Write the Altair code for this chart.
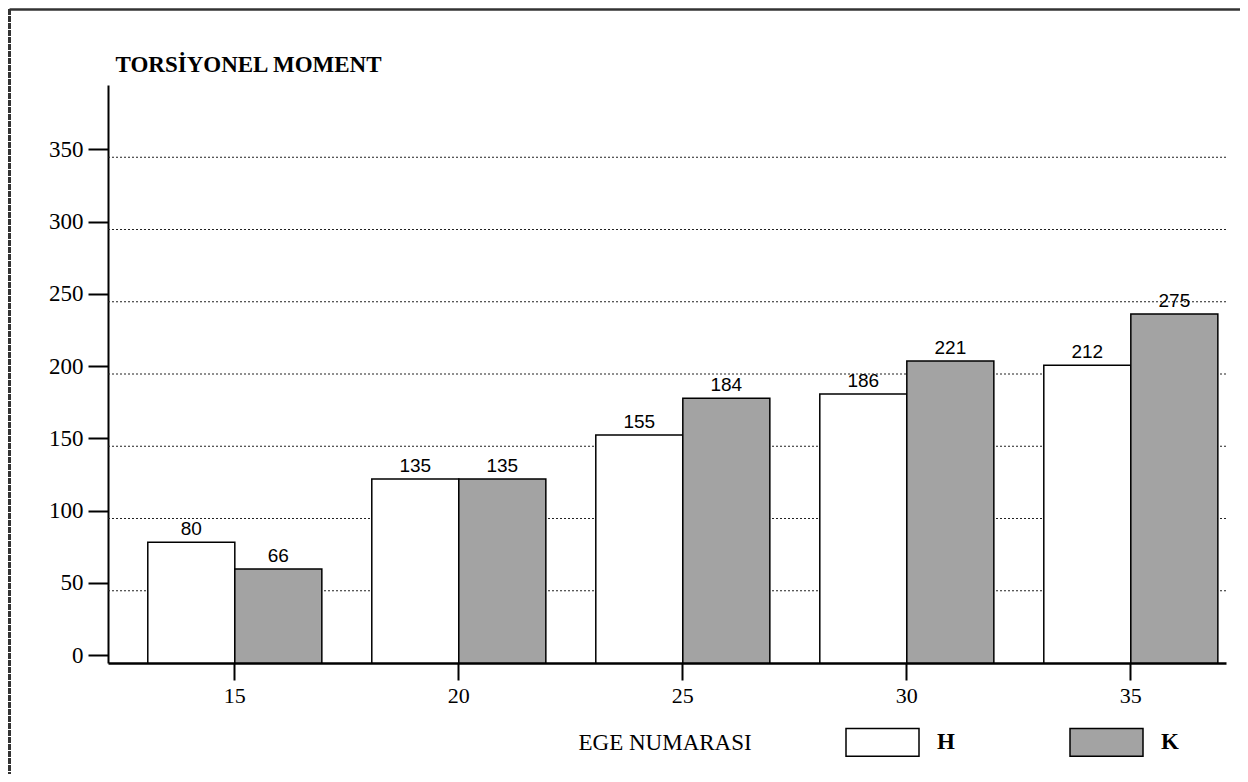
import altair as alt
import pandas as pd

# ---- data ----
ege = ["15", "20", "25", "30", "35"]
groups = ["H", "K"]
# bar heights as drawn (axis units)
bar_H = [83.5, 127.3, 157.8, 186.2, 206.0]
bar_K = [65.0, 127.3, 183.2, 209.0, 241.5]
# value labels printed above the bars
label_H = ["80", "135", "155", "186", "212"]
label_K = ["66", "135", "184", "221", "275"]
y_ticks = [0, 50, 100, 150, 200, 250, 300, 350]
grid_values = [50, 100, 150, 200, 250, 300, 350]

rows = []
for i, e in enumerate(ege):
    rows.append({"ege": e, "grup": "H", "bar": bar_H[i], "label": label_H[i]})
    rows.append({"ege": e, "grup": "K", "bar": bar_K[i], "label": label_K[i]})
df = pd.DataFrame(rows)
grid_df = pd.DataFrame({"bar": grid_values})

PLOT_W = 1118
PLOT_H = 578
SERIF = "Liberation Serif"
SANS = "Liberation Sans"

x_enc = alt.X(
    "ege:N",
    sort=ege,
    scale=alt.Scale(paddingInner=0.223, paddingOuter=0.107, align=0.83),
    axis=alt.Axis(
        title="EGE NUMARASI",
        titleX=470, titleY=79, titleAlign="left", titleBaseline="middle",
        titleFont=SERIF, titleFontSize=23, titleFontWeight="normal", titleColor="black",
        labelAngle=0, labelFont=SERIF, labelFontSize=22, labelColor="black",
        labelPadding=5, tickSize=17, tickWidth=2, tickColor="black",
        domainColor="black", domainWidth=2.5, grid=False,
    ),
)
xoff_enc = alt.XOffset("grup:N", sort=groups, scale=alt.Scale(paddingInner=0, paddingOuter=0))
y_axis = alt.Axis(
    title="TORSİYONEL MOMENT",
    titleAngle=0, titleX=7, titleY=-21, titleAlign="left", titleBaseline="middle",
    titleFont=SERIF, titleFontSize=23, titleFontWeight="bold", titleColor="black",
    values=y_ticks, labelFont=SERIF, labelFontSize=23, labelColor="black",
    labelPadding=5, tickSize=20, tickWidth=2, tickColor="black", tickOffset=-8,
    domainColor="black", domainWidth=2, grid=False,
)
y_scale = alt.Scale(domain=[0, 400], nice=False)

grid = alt.Chart(grid_df).mark_rule(strokeDash=[2, 2], color="#222222", strokeWidth=1.2).encode(
    y=alt.Y("bar:Q", scale=y_scale, axis=y_axis),
    x=alt.value(0),
    x2=alt.value(PLOT_W),
)

bars = alt.Chart(df).mark_bar(stroke="black", strokeWidth=1.5).encode(
    x=x_enc,
    xOffset=xoff_enc,
    y=alt.Y("bar:Q", scale=y_scale, axis=y_axis),
    color=alt.Color(
        "grup:N",
        scale=alt.Scale(domain=groups, range=["white", "#a3a3a3"]),
        legend=alt.Legend(
            orient="none", legendX=737, legendY=619.5, direction="horizontal",
            title=None, padding=0,
            symbolType="M-1,-0.38H1V0.38H-1Z", symbolSize=5329,
            symbolStrokeColor="black", symbolStrokeWidth=1.5, symbolOpacity=1,
            labelFont=SERIF, labelFontSize=23, labelFontWeight="bold", labelColor="black",
            labelOffset=17, columnPadding=112,
        ),
    ),
)

labels = alt.Chart(df).mark_text(
    font=SANS, fontSize=19, dy=-7, baseline="alphabetic", color="black"
).encode(
    x=alt.X("ege:N", sort=ege),
    xOffset=alt.XOffset("grup:N", sort=groups),
    y=alt.Y("bar:Q"),
    text="label:N",
)

frame_df = pd.DataFrame({"k": [0]})
frame_left = alt.Chart(frame_df).mark_rule(color="#333333", strokeWidth=3, strokeDash=[6, 1]).encode(
    x=alt.value(-98.5), y=alt.value(-76), y2=alt.value(689)
)
frame_top = alt.Chart(frame_df).mark_rule(color="#333333", strokeWidth=2.5).encode(
    x=alt.value(-98.5), x2=alt.value(1132), y=alt.value(-75.5)
)

chart = alt.layer(grid, bars, labels, frame_left, frame_top).properties(
    width=PLOT_W,
    height=PLOT_H,
    padding={"left": 100, "top": 77, "right": 14, "bottom": 111},
    autosize=alt.AutoSizeParams(type="none"),
    background="white",
).configure_view(stroke=None)

chart.save("out.html", embed_options={"renderer": "svg", "actions": False})
